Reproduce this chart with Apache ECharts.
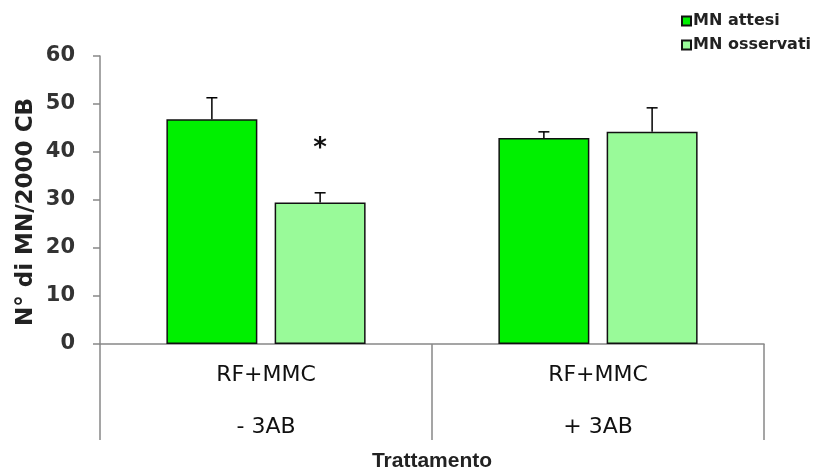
<!DOCTYPE html>
<html>
<head>
<meta charset="utf-8">
<script src="https://cdn.jsdelivr.net/npm/echarts@6/dist/echarts.min.js"></script>
<style>html,body{margin:0;padding:0;background:#fff}#c{width:829px;height:474px}</style>
</head>
<body>
<div id="c"></div>
<script>
var categories = ['RF+MMC\n- 3AB', 'RF+MMC\n+ 3AB'];
var seriesNames = ['MN attesi', 'MN osservati'];
var attesi = [46.8, 42.9];
var attesiErr = [4.5, 1.3];
var osservati = [29.5, 44.2];
var osservatiErr = [2.0, 5.0];
var significance = ['*', ''];
var yTicks = [0, 10, 20, 30, 40, 50, 60];

var colors = ['#00F000', '#99FA99'];
var FONT = '"DejaVu Sans", Verdana, sans-serif';
var FONT2 = '"Liberation Sans", Arial, sans-serif';
var barCategoryGap = 0.40, barGap = 0.19;

function errSeries(vals, errs, idx) {
  var data = vals.map(function (v, i) { return [i, v, errs[i]]; });
  return {
    type: 'custom',
    name: seriesNames[idx] + ' err',
    z: 5,
    data: data,
    renderItem: function (params, api) {
      var band = api.size([1, 0])[0];
      var inner = band * (1 - barCategoryGap);
      var bw = inner / (2 + barGap);
      var off = (bw / 2 + bw * barGap / 2) * (idx === 0 ? -1 : 1);
      var base = api.coord([api.value(0), api.value(1)]);
      var top = api.coord([api.value(0), api.value(1) + api.value(2)]);
      var x = base[0] + off;
      var cap = 5.5;
      var st = { stroke: '#000', lineWidth: 1.5 };
      return {
        type: 'group',
        children: [
          { type: 'line', shape: { x1: x, y1: base[1], x2: x, y2: top[1] }, style: st },
          { type: 'line', shape: { x1: x - cap, y1: top[1], x2: x + cap, y2: top[1] }, style: st }
        ]
      };
    }
  };
}

var chart = echarts.init(document.getElementById('c'));
chart.setOption({
  animation: false,
  backgroundColor: '#fff',
  grid: { left: 100, right: 65, top: 56, bottom: 130, outerBoundsMode: 'none', containLabel: false },
  legend: {
    orient: 'vertical', left: 676, top: 8,
    data: seriesNames,
    itemWidth: 9, itemHeight: 9, itemGap: 8,
    icon: 'rect',
    textStyle: { fontFamily: FONT, fontWeight: 'bold', fontSize: 16, color: '#222', padding: [0, 0, 0, -3] }
  },
  xAxis: {
    type: 'category',
    data: categories,
    name: 'Trattamento',
    nameLocation: 'middle',
    nameGap: 107,
    nameMoveOverlap: false,
    nameTextStyle: { fontFamily: FONT2, fontWeight: 'bold', fontSize: 21, color: '#222' },
    axisLine: { lineStyle: { color: '#888', width: 1.5 } },
    axisTick: { show: true, length: 96, lineStyle: { color: '#888', width: 1.5 } },
    axisLabel: { fontFamily: FONT, fontSize: 22, color: '#111', lineHeight: 52, margin: 5 }
  },
  yAxis: {
    type: 'value', min: 0, max: 60, interval: 10,
    name: 'N° di MN/2000 CB',
    nameLocation: 'middle',
    nameGap: 62,
    nameMoveOverlap: false,
    nameTextStyle: { fontFamily: FONT, fontWeight: 'bold', fontSize: 23, color: '#222', padding: [0, 24, 0, 0] },
    axisLine: { show: true, lineStyle: { color: '#888', width: 1.5 } },
    axisTick: { show: true, inside: false, length: 7, lineStyle: { color: '#888', width: 1.5 } },
    splitLine: { show: false },
    axisLabel: { fontFamily: FONT, fontWeight: 'bold', fontSize: 21, color: '#333', margin: 25,
      formatter: function (v) { return yTicks.indexOf(v) >= 0 ? String(v) : ''; } }
  },
  series: [
    {
      type: 'bar', name: seriesNames[0], data: attesi,
      barCategoryGap: (barCategoryGap * 100) + '%', barGap: (barGap * 100) + '%',
      itemStyle: { color: colors[0], borderColor: '#111', borderWidth: 1.5 }
    },
    {
      type: 'bar', name: seriesNames[1],
      data: osservati.map(function (v, i) {
        return significance[i] ? { value: v, label: { show: true, position: 'top', distance: 40, formatter: significance[i], fontSize: 26, fontWeight: 'bold', color: '#111', fontFamily: FONT } } : v;
      }),
      itemStyle: { color: colors[1], borderColor: '#111', borderWidth: 1.5 }
    },
    errSeries(attesi, attesiErr, 0),
    errSeries(osservati, osservatiErr, 1)
  ]
});
</script>
</body>
</html>
